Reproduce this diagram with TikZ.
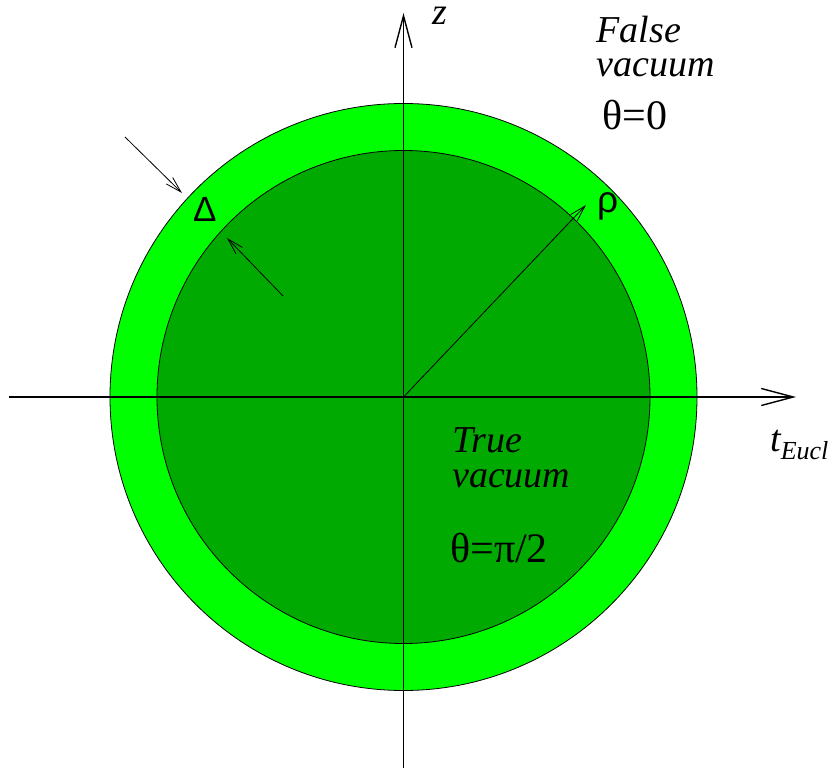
\documentclass[tikz,border=0pt]{standalone}
\usepackage{fontspec}
\setmainfont{Liberation Serif}
\newfontfamily\labelserif{Liberation Serif}
\newfontfamily\greeksans{Liberation Sans}
\usetikzlibrary{arrows.meta}

\definecolor{wallgreen}{RGB}{0,255,0}
\definecolor{truegreen}{RGB}{0,170,0}

\begin{document}
\begin{tikzpicture}[x=1pt, y=1pt,
    axis/.style={line width=1.4pt,
      -{Straight Barb[length=32pt, width=17pt]}},
    pointer/.style={line width=0.8pt,
      -{Straight Barb[length=16pt, width=9pt]}},
    tag/.style={anchor=base west, inner sep=0pt, align=left,
      font=\labelserif\fontsize{38}{34.5}\selectfont\itshape},
    angle/.style={anchor=base west, inner sep=0pt,
      font=\labelserif\fontsize{42}{48}\selectfont},
    sym/.style={anchor=base west, inner sep=0pt,
      font=\greeksans\fontsize{37}{42}\selectfont}]
  \useasboundingbox (-403.5,-371) rectangle (431.5,397);

  % Bubble: wall and interior
  \draw[fill=wallgreen, line width=0.8pt] (0,0) circle (293.5);
  \draw[fill=truegreen, line width=0.8pt] (0,0) circle (246.5);

  % Axes
  \coordinate (O) at (0,0);
  \coordinate (tleft) at (-394.5,0);
  \coordinate (tright) at (392.5,0);
  \coordinate (zlow) at (0,-371);
  \coordinate (zhigh) at (0,384);
  \draw[axis] (tleft) -- (tright);
  \draw[axis] (zlow) -- (zhigh);
  \node[tag, text height=19pt] (zlab) at (28.5,372) {z};
  \node[tag] (tlab) at (366.5,-55)
    {t\raisebox{-8pt}{\fontsize{26}{30}\selectfont Eucl}};

  % Radius
  \coordinate (rhotip) at (182.5,192);
  \draw[pointer] (O) -- (rhotip);
  \node[sym] (rholab) at (193.5,184) {ρ};

  % Wall thickness
  \coordinate (outfrom) at (-278.5,260);
  \coordinate (outto) at (-221.5,204);
  \coordinate (infrom) at (-120.5,101);
  \coordinate (into) at (-176.5,159);
  \draw[pointer] (outfrom) -- (outto);
  \draw[pointer] (infrom) -- (into);
  \node[sym, font=\greeksans\fontsize{35}{40}\selectfont]
    (deltalab) at (-210.5,175) {Δ};

  % Outside
  \node[tag] (falselab) at (193,320) {False\\vacuum};
  \node[angle] (falseth) at (198.5,267) {θ=0};

  % Inside
  \node[tag] (truelab) at (48.5,-90) {True\\vacuum};
  \node[angle] (trueth) at (46.5,-165) {θ=π/2};
\end{tikzpicture}
\end{document}
